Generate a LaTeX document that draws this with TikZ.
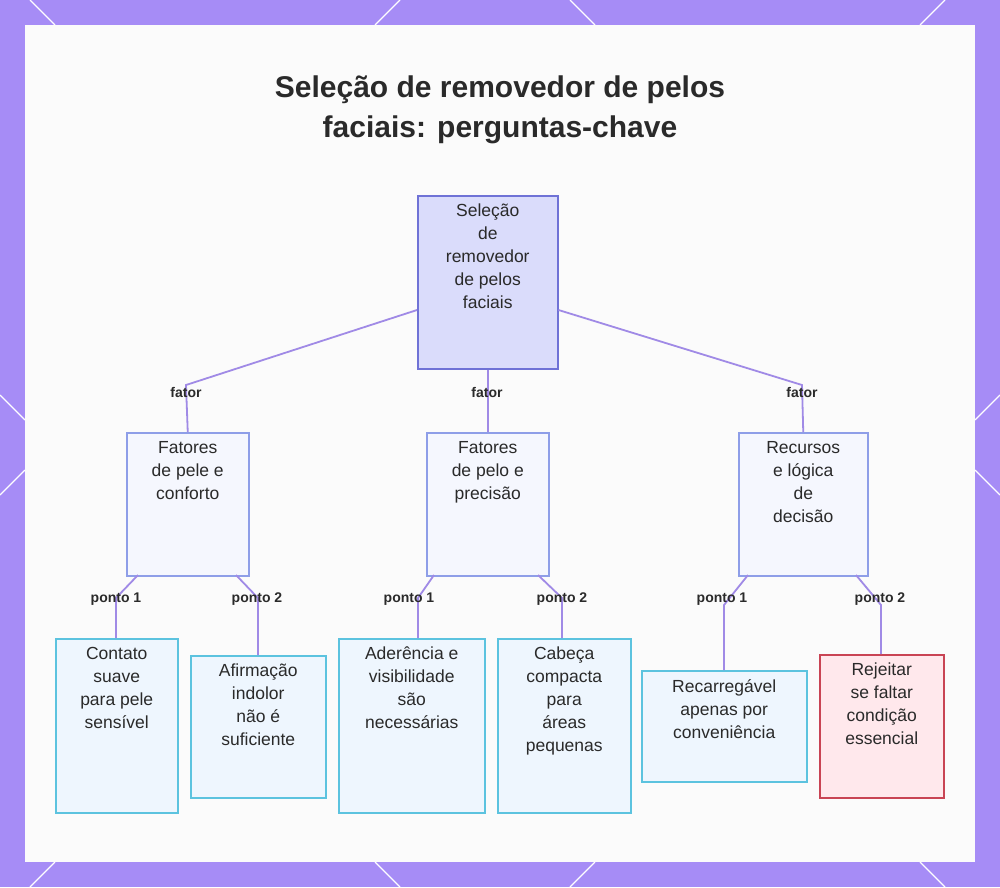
\documentclass[tikz,border=0pt]{standalone}
\usepackage{fontspec}
\setmainfont{Liberation Sans}
\definecolor{bord}{HTML}{A68CF6}
\definecolor{edge}{HTML}{A08AE6}
\definecolor{rootf}{HTML}{DADCFB}
\definecolor{rootd}{HTML}{6F72D6}
\definecolor{midf}{HTML}{F5F7FE}
\definecolor{midd}{HTML}{8E9EE8}
\definecolor{leaff}{HTML}{EEF6FE}
\definecolor{leafd}{HTML}{5CC3DF}
\definecolor{redf}{HTML}{FFE8EC}
\definecolor{redd}{HTML}{C94454}
\definecolor{txt}{HTML}{2A2A2A}
\begin{document}
\begin{tikzpicture}[x=1pt,y=-1pt,
  box/.style={draw, line width=1.5pt, inner sep=0pt, anchor=north west},
  t/.style={anchor=north, align=center, font=\fontsize{17.5}{23}\selectfont, text=txt, inner sep=0pt},
  lab/.style={font=\bfseries\fontsize{14}{16}\selectfont, text=txt, fill=none, inner sep=1pt},
  e/.style={draw=edge, line width=1.8pt}]
\useasboundingbox (0,0) rectangle (1000,887);
\fill[bord] (0,0) rectangle (1000,887);
\begin{scope}[white, line width=1.2pt]
\draw (30,0) -- (55,25); \draw (400,0)--(375,25); \draw (570,0)--(595,25); \draw (945,0)--(920,25);
\draw (0,395)--(25,420); \draw (0,495)--(25,470); \draw (1000,395)--(975,420); \draw (1000,495)--(975,470);
\draw (30,887)--(55,862); \draw (400,887)--(375,862); \draw (570,887)--(595,862); \draw (945,887)--(920,862);
\end{scope}
\fill[white!97!gray] (25,25) rectangle (975,862);
\node[font=\bfseries\fontsize{30}{40}\selectfont, text=txt, align=center] (title) at (500,110) {Seleção de removedor de pelos\\faciais: perguntas-chave};
% boxes
\node[box, fill=rootf, draw=rootd, minimum width=140, minimum height=173] (root) at (417,195) {};
\node[box, fill=midf, draw=midd, minimum width=122, minimum height=143] (c1) at (126,432) {};
\node[box, fill=midf, draw=midd, minimum width=122, minimum height=143] (c2) at (426,432) {};
\node[box, fill=midf, draw=midd, minimum width=129, minimum height=143] (c3) at (738,432) {};
\node[box, fill=leaff, draw=leafd, minimum width=122, minimum height=174] (l1) at (55,638) {};
\node[box, fill=leaff, draw=leafd, minimum width=135, minimum height=142] (l2) at (190,655) {};
\node[box, fill=leaff, draw=leafd, minimum width=146, minimum height=174] (l3) at (338,638) {};
\node[box, fill=leaff, draw=leafd, minimum width=133, minimum height=174] (l4) at (497,638) {};
\node[box, fill=leaff, draw=leafd, minimum width=165, minimum height=111] (l5) at (641,670) {};
\node[box, fill=redf, draw=redd, minimum width=124, minimum height=143] (l6) at (819,654) {};
% texts
\node[t] (troot) at ([yshift=-9]root.north) {Seleção\\de\\removedor\\de pelos\\faciais};
\node[t] (tc1) at ([yshift=-9]c1.north) {Fatores\\de pele e\\conforto};
\node[t] (tc2) at ([yshift=-9]c2.north) {Fatores\\de pelo e\\precisão};
\node[t] (tc3) at ([yshift=-9]c3.north) {Recursos\\e lógica\\de\\decisão};
\node[t] (tl1) at ([yshift=-9]l1.north) {Contato\\suave\\para pele\\sensível};
\node[t] (tl2) at ([yshift=-9]l2.north) {Afirmação\\indolor\\não é\\suficiente};
\node[t] (tl3) at ([yshift=-9]l3.north) {Aderência e\\visibilidade\\são\\necessárias};
\node[t] (tl4) at ([yshift=-9]l4.north) {Cabeça\\compacta\\para\\áreas\\pequenas};
\node[t] (tl5) at ([yshift=-9]l5.north) {Recarregável\\apenas por\\conveniência};
\node[t] (tl6) at ([yshift=-9]l6.north) {Rejeitar\\se faltar\\condição\\essencial};
% edges
\coordinate (a1) at (186,385); \coordinate (a3) at (802,385);
\draw[e] (root.west |- 0,310) -- (a1) -- (c1.north);
\draw[e] (root.south) -- (c2.north);
\draw[e] (root.east |- 0,310) -- (a3) -- (c3.north);
\coordinate (b1) at (116,598); \coordinate (b2) at (258,598);
\coordinate (b3) at (418,598); \coordinate (b4) at (562,598);
\coordinate (b5) at (724,605); \coordinate (b6) at (881,605);
\draw[e] (138,575) -- (b1) -- (l1.north -| b1);
\draw[e] (236,575) -- (b2) -- (l2.north -| b2);
\draw[e] (434,575) -- (b3) -- (l3.north -| b3);
\draw[e] (538,575) -- (b4) -- (l4.north -| b4);
\draw[e] (748,575) -- (b5) -- (l5.north -| b5);
\draw[e] (856,575) -- (b6) -- (l6.north -| b6);
% labels
\node[lab] (f1) at (186,392) {fator};
\node[lab] (f2) at (487,392) {fator};
\node[lab] (f3) at (802,392) {fator};
\node[lab] (p1) at (116,599) {ponto 1};
\node[lab] (p2) at (257,599) {ponto 2};
\node[lab] (p3) at (409,599) {ponto 1};
\node[lab] (p4) at (562,599) {ponto 2};
\node[lab] (p5) at (722,599) {ponto 1};
\node[lab] (p6) at (880,599) {ponto 2};
\end{tikzpicture}
\end{document}
